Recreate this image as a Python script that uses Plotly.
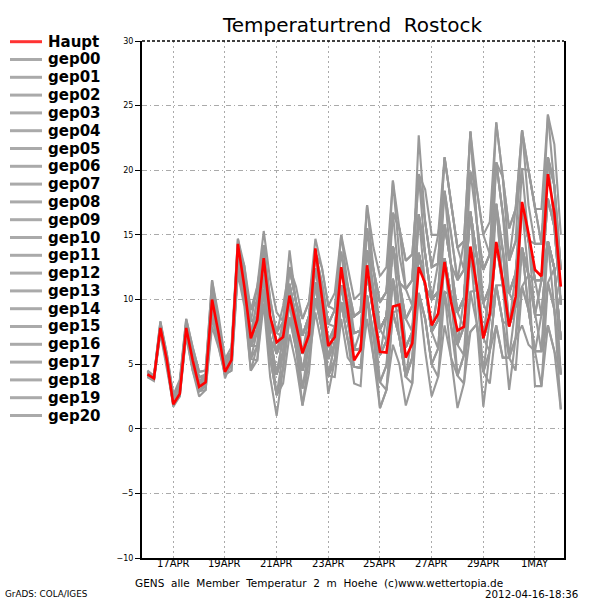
import plotly.graph_objects as go
import pandas as pd

# ---- time axis (6-hourly, GENS run 2012-04-16 00Z, 16 days) ----
start_time = "2012-04-16 00:00"
n_steps = 65
times = pd.date_range(start_time, periods=n_steps, freq="6h")

tick_dates = ["2012-04-17", "2012-04-19", "2012-04-21", "2012-04-23",
              "2012-04-25", "2012-04-27", "2012-04-29", "2012-05-01"]
tick_labels = ["17APR", "19APR", "21APR", "23APR", "25APR", "27APR", "29APR", "1MAY"]
y_ticks = [-10, -5, 0, 5, 10, 15, 20, 25, 30]

# ---- main run ----
haupt = [4.2, 3.9, 7.8, 5.3, 1.9, 2.7, 7.8, 5.3, 3.25, 3.6, 10.0, 7.4, 4.4, 5.3, 14.3, 11.0,
         7.0, 8.4, 13.2, 8.7, 6.7, 7.1, 10.3, 8.2, 5.85, 7.25, 13.95, 10.2, 6.4, 7.1, 12.5, 9.2,
         5.3, 6.1, 12.65, 9.0, 5.95, 5.9, 9.45, 9.6, 5.5, 6.6, 12.5, 11.25, 8.0, 8.9, 12.9, 9.8,
         7.6, 7.9, 14.1, 11.0, 7.0, 8.9, 14.45, 11.5, 7.9, 10.2, 17.55, 15.1, 12.3, 11.8, 19.7, 16.7,
         11.0]

# ---- ensemble members ----
gep00 = [4.2,3.9,7.8,5.2, 2.1,3.3,8.0,5.2, 3.6,3.6,9.3,7.3, 4.5,5.6,13.6,11.4, 7.3,7.6,13.1,7.0, 4.2,5.9,11.2,7.4, 5.8,7.6,12.4,10.1, 5.4,7.9,11.1,8.3, 7.4,7.6,12.0,8.9, 5.7,8.7,14.1,11.3, 6.3,7.5,16.6,11.0, 7.5,10.6,13.2,10.3, 9.0,10.1,16.8,10.7, 7.0,8.5,14.3,11.1, 10.5,12.0,17.1,14.6, 8.8,11.5,14.5,12.4, 6.9]
gep01 = [4.3,3.9,7.9,5.4, 2.4,3.5,8.2,5.9, 3.6,4.2,10.8,7.8, 4.8,5.9,14.2,12.6, 8.3,11.0,15.3,11.5, 9.0,8.3,12.5,9.8, 8.5,9.8,13.6,11.3, 8.1,9.2,13.7,9.7, 8.7,9.1,17.3,14.0, 11.8,12.5,19.2,15.5, 10.8,11.5,22.7,16.0, 12.5,15.0,18.4,15.1, 11.5,14.5,19.9,18.5, 15.0,13.5,20.6,19.5, 13.0,17.0,23.1,20.0, 17.0,17.0,24.3,18.8, 12.3]
gep02 = [4.1,3.8,7.6,5.0, 1.9,2.5,7.5,4.9, 2.9,3.6,9.3,6.8, 4.5,4.9,12.5,10.1, 5.4,5.3,9.7,4.0, 1.0,4.7,8.6,6.2, 1.8,5.4,9.0,6.5, 4.1,5.3,9.8,6.9, 3.5,3.3,10.3,5.5, 3.6,4.9,9.0,9.2, 4.0,5.5,10.5,6.0, 2.5,4.0,10.6,5.5, 4.1,3.5,7.5,8.1, 4.4,6.0,11.1,8.3, 3.0,7.0,8.0,6.5, 6.0,3.3,11.3,9.2, 4.2]
gep03 = [4.4,4.0,8.1,5.6, 2.2,3.3,8.0,5.6, 4.0,3.9,10.8,7.8, 5.1,5.6,13.6,11.4, 7.3,9.9,14.2,8.5, 5.8,8.3,11.2,8.6, 7.2,8.7,13.6,10.1, 8.1,9.2,15.0,11.1, 7.4,7.6,13.8,12.3, 9.8,10.6,16.7,15.5, 13.0,13.5,19.7,16.0, 12.5,12.8,21.0,17.5, 14.0,14.5,23.0,15.9, 12.3,13.5,23.7,19.5, 15.5,17.0,20.1,20.0, 17.0,14.3,21.0,18.8, 12.3]
gep04 = [4.0,3.7,7.4,4.8, 1.9,2.8,7.2,4.5, 2.5,3.0,7.9,6.3, 4.2,4.5,12.5,10.1, 4.5,6.4,11.9,7.0, 2.6,4.7,9.9,6.2, 3.1,5.4,10.1,7.7, 2.7,5.3,9.8,8.3, 4.8,4.7,10.3,7.2, 3.6,3.0,9.0,7.1, 4.0,3.5,13.6,11.0, 7.5,6.2,13.2,7.9, 6.5,5.7,13.7,10.7, 7.0,6.0,11.1,11.1, 5.5,9.5,14.0,9.2, 6.0,6.0,14.5,12.4, 4.2]
gep05 = [4.5,4.1,8.3,5.8, 2.6,3.8,8.5,6.3, 4.4,4.5,10.8,8.3, 5.4,5.9,14.2,12.0, 8.3,8.7,13.1,8.5, 5.8,8.3,12.5,9.8, 5.8,8.7,13.6,10.1, 6.8,7.9,12.4,9.7, 6.1,6.2,12.0,8.9, 7.7,8.7,11.6,9.2, 8.5,7.5,13.6,11.0, 7.5,8.4,13.2,10.3, 9.0,10.1,13.7,8.1, 4.4,8.5,14.3,13.9, 8.0,9.5,14.0,11.9, 11.5,11.5,17.8,15.6, 9.6]
gep06 = [4.2,3.9,7.8,5.4, 2.2,3.0,7.7,5.6, 3.3,3.6,10.1,7.8, 4.8,5.2,13.1,10.7, 6.4,7.6,11.9,5.5, 4.2,5.9,8.6,6.2, 4.5,6.5,11.3,8.9, 5.4,6.6,11.1,9.7, 6.1,7.6,12.0,8.9, 7.7,6.8,14.1,11.3, 8.5,9.5,13.6,11.0, 10.0,10.6,15.8,12.7, 6.5,10.1,16.8,13.3, 7.0,11.0,17.4,13.9, 10.5,12.0,17.1,14.6, 11.5,11.5,17.8,15.6, 9.6]
gep07 = [4.3,3.9,7.9,5.2, 2.1,3.0,7.7,5.2, 3.3,3.9,9.3,7.3, 4.5,5.2,13.6,10.7, 7.3,9.9,14.2,10.0, 7.4,7.1,11.2,8.6, 5.8,7.6,12.4,11.3, 8.1,9.2,12.4,9.7, 8.7,9.1,15.5,12.3, 7.7,8.7,14.1,11.3, 10.8,9.5,16.6,13.5, 10.0,10.6,13.2,10.3, 6.5,7.9,13.7,13.3, 9.7,11.0,20.6,16.7, 13.0,14.5,17.1,14.6, 11.5,11.5,14.5,12.4, 6.9]
gep08 = [4.1,3.9,7.6,5.2, 1.9,3.0,7.7,4.9, 2.9,3.3,8.6,7.3, 3.9,5.2,13.1,10.1, 5.4,6.4,10.8,5.5, 4.2,5.9,8.6,7.4, 4.5,6.5,11.3,10.1, 6.8,7.9,11.1,8.3, 6.1,6.2,12.0,8.9, 5.7,6.8,9.0,7.1, 4.0,5.5,13.6,11.0, 7.5,8.4,15.8,12.7, 9.0,10.1,19.9,15.9, 9.7,11.0,14.3,11.1, 8.0,9.5,14.0,9.2, 6.0,6.0,8.0,6.0, 1.5]
gep09 = [4.4,4.1,8.1,5.8, 2.4,3.5,8.2,5.9, 4.0,4.2,11.5,8.3, 5.1,5.9,14.7,12.0, 9.2,9.9,14.2,8.5, 7.4,8.3,13.8,9.8, 7.2,8.7,13.6,12.5, 9.5,10.5,15.0,12.5, 10.0,10.5,17.3,12.3, 9.8,10.6,14.1,9.2, 8.5,9.5,16.6,13.5, 10.0,10.6,18.4,15.1, 11.5,12.3,16.8,13.3, 9.7,8.5,14.3,11.1, 8.0,12.0,17.1,14.6, 14.3,14.3,21.0,18.8, 12.3]
gep10 = [4.2,3.8,7.8,5.0, 2.1,2.8,7.5,5.2, 3.3,3.6,9.3,6.8, 4.5,4.9,12.5,10.7, 6.4,8.7,13.1,7.0, 5.8,7.1,9.9,7.4, 4.5,6.5,11.3,8.9, 4.1,5.3,9.8,8.3, 6.1,6.2,13.8,10.6, 7.7,8.7,16.7,15.5, 13.0,13.5,19.7,18.5, 15.0,15.0,21.0,17.5, 14.0,14.5,23.0,15.9, 12.3,13.5,17.4,11.1, 8.0,9.5,17.1,14.6, 11.5,8.8,14.5,12.4, 6.9]
gep11 = [4.3,4.0,7.9,5.6, 2.2,3.5,8.2,5.6, 4.0,3.9,10.1,7.8, 4.8,5.6,13.6,10.7, 6.4,7.6,11.9,8.5, 5.8,7.1,11.2,8.6, 5.8,7.6,13.6,11.3, 8.1,7.9,11.1,8.3, 6.1,6.2,13.8,10.6, 7.7,8.7,14.1,11.3, 10.8,11.5,19.7,13.5, 10.0,10.6,13.2,10.3, 4.1,5.7,10.6,10.7, 7.0,8.5,14.3,13.9, 10.5,12.0,17.1,11.9, 8.8,6.0,11.3,9.2, 4.2]
gep12 = [4.0,3.8,7.4,5.0, 1.7,2.5,7.2,4.5, 2.9,3.0,8.6,6.3, 4.2,4.5,12.0,9.5, 4.5,5.3,10.8,5.5, 2.6,3.5,7.3,5.0, 1.8,4.3,10.1,7.7, 4.1,4.0,8.5,5.5, 4.8,4.7,10.3,7.2, 1.6,3.0,6.5,5.0, 1.8,3.5,10.5,8.5, 5.0,4.0,8.0,5.5, 1.6,3.5,10.6,8.1, 1.7,6.0,8.0,5.5, 5.5,7.0,14.0,11.9, 3.3,3.3,8.0,6.0, 4.2]
gep13 = [4.5,4.0,8.3,5.6, 2.6,3.5,8.5,6.3, 4.4,4.5,11.5,8.8, 5.4,6.3,14.7,12.6, 9.2,11.0,14.2,10.0, 7.4,9.5,12.5,11.0, 8.5,9.8,14.7,12.5, 9.5,9.2,13.7,11.1, 8.7,9.1,15.5,10.6, 7.7,8.7,14.1,11.3, 6.3,7.5,13.6,11.0, 7.5,8.4,10.6,7.9, 4.1,5.7,7.5,8.1, 4.4,3.5,8.0,5.5, 5.5,4.5,11.0,9.2, 6.0,6.0,11.3,12.4, 6.9]
gep14 = [4.2,3.9,7.8,5.4, 2.1,3.0,8.0,5.2, 3.3,3.9,10.1,7.3, 4.5,5.2,13.1,11.4, 7.3,7.6,11.9,7.0, 4.2,7.1,9.9,7.4, 4.5,7.6,11.3,7.7, 4.1,6.6,11.1,8.3, 6.1,6.2,12.0,8.9, 3.6,4.9,11.6,7.1, 4.0,7.5,10.5,8.5, 5.0,6.2,10.6,10.3, 6.5,7.9,13.7,10.7, 7.0,8.5,17.4,11.1, 10.5,9.5,11.0,9.2, 6.0,8.8,14.5,12.4, 6.9]
gep15 = [4.3,3.9,8.1,5.4, 2.2,3.3,8.0,5.9, 3.6,4.2,10.1,8.3, 5.1,5.6,13.6,11.4, 7.3,8.7,13.1,8.5, 5.8,7.1,12.5,9.8, 7.2,8.7,12.4,8.9, 5.4,7.9,12.4,9.7, 7.4,7.6,13.8,10.6, 9.8,10.6,16.7,11.3, 8.5,9.5,13.6,11.0, 7.5,8.4,13.2,10.3, 9.0,10.1,16.8,13.3, 9.7,11.0,20.6,16.7, 13.0,14.5,23.1,20.0, 17.0,14.3,24.3,22.0, 15.0]
gep16 = [4.1,3.8,7.8,5.0, 2.1,2.8,7.5,5.2, 2.9,3.3,8.6,6.8, 4.2,4.9,13.1,10.7, 6.4,6.4,10.8,5.5, 2.6,4.7,8.6,7.4, 4.5,6.5,10.1,7.7, 4.1,6.6,11.1,8.3, 6.1,6.2,10.3,7.2, 5.7,6.8,11.6,9.2, 6.3,7.5,16.6,13.5, 10.0,12.8,18.4,12.7, 9.0,10.1,16.8,13.3, 12.3,13.5,20.6,16.7, 10.5,12.0,20.1,14.6, 11.5,11.5,21.0,18.8, 9.6]
gep17 = [4.4,3.9,7.9,5.6, 2.4,3.3,8.2,5.6, 3.6,3.9,10.8,8.3, 4.8,5.9,14.2,12.0, 8.3,8.7,13.1,7.0, 4.2,7.1,11.2,8.6, 5.8,6.5,11.3,8.9, 5.4,7.9,12.4,11.1, 8.7,9.1,15.5,12.3, 9.8,10.6,19.2,13.4, 10.8,11.5,19.7,16.0, 12.5,12.8,21.0,17.5, 14.0,12.3,23.0,18.5, 15.0,16.0,23.7,19.5, 15.5,17.0,23.1,17.3, 14.3,14.3,21.0,15.6, 9.6]
gep18 = [4.2,3.9,7.9,5.2, 2.1,3.3,7.7,5.2, 3.3,3.6,9.3,7.8, 4.5,5.6,13.6,11.4, 7.3,8.7,14.2,8.5, 5.8,7.1,12.5,9.8, 7.2,8.7,12.4,10.1, 6.8,6.6,11.1,8.3, 7.4,7.6,13.8,10.6, 5.7,6.8,11.6,9.2, 6.3,7.5,13.6,11.0, 10.0,10.6,15.8,12.7, 11.5,12.3,13.7,10.7, 7.0,8.5,11.1,8.3, 8.0,9.5,14.0,11.9, 11.5,11.5,14.5,12.4, 6.9]
gep19 = [4.3,3.9,7.8,5.4, 2.2,3.3,8.0,5.2, 3.6,3.9,10.1,7.8, 4.8,5.6,12.5,10.1, 5.4,7.6,11.9,7.0, 4.2,5.9,9.9,7.4, 3.1,6.5,11.3,7.7, 5.4,6.6,9.8,6.9, 4.8,4.7,8.5,5.5, 1.6,3.0,9.0,7.1, 4.0,5.5,10.5,8.5, 5.0,6.2,13.2,10.3, 6.5,7.9,13.7,10.7, 7.0,11.0,17.4,13.9, 8.0,9.5,14.0,11.9, 8.8,11.5,17.8,15.6, 9.6]
gep20 = [4.1,3.9,7.6,5.2, 1.9,3.0,7.7,5.2, 3.3,3.3,9.3,7.3, 4.5,5.2,13.1,10.7, 6.4,7.6,10.8,5.5, 2.6,5.9,9.9,6.2, 4.5,6.5,11.3,7.7, 4.1,5.3,9.8,6.9, 6.1,6.2,12.0,10.6, 7.7,8.7,14.1,11.3, 8.5,9.5,13.6,11.0, 7.5,10.6,15.8,12.7, 9.0,7.9,13.7,10.7, 4.4,6.0,11.1,8.3, 5.5,7.0,11.0,11.9, 8.8,8.8,14.5,9.2, 1.5]

members = [gep00, gep01, gep02, gep03, gep04, gep05, gep06, gep07, gep08, gep09, gep10,
           gep11, gep12, gep13, gep14, gep15, gep16, gep17, gep18, gep19, gep20]
member_names = ["gep%02d" % i for i in range(len(members))]
for nm, m in zip(member_names, members):
    assert len(m) == n_steps, (nm, len(m))
assert len(haupt) == n_steps

# ---- styling ----
GREY = "#999999"
RED = "#ff0000"
FONT = "DejaVu Sans"

# layout geometry (pixels)
W, H = 600, 600
ML, MR, MT, MB = 142, 36, 41, 42
PW = W - ML - MR
PH = H - MT - MB


def px_x(px):
    return (px - ML) / PW


def px_y(py):
    return (H - MB - py) / PH


fig = go.Figure()
for nm, m in zip(member_names, members):
    fig.add_trace(go.Scatter(x=times, y=m, mode="lines", name=nm,
                             line=dict(color=GREY, width=2.1), hoverinfo="skip"))
fig.add_trace(go.Scatter(x=times, y=haupt, mode="lines", name="Haupt",
                         line=dict(color=RED, width=2.6), hoverinfo="skip"))

shapes = []
annotations = []

# dotted top border of the frame
shapes.append(dict(type="line", xref="paper", yref="paper", x0=0, x1=1, y0=1, y1=1,
                   line=dict(color="black", width=1.5, dash="3px,2px"), layer="above"))

# manual legend on the left
legend_names = ["Haupt"] + member_names
for i, nm in enumerate(legend_names):
    py = 41.7 + i * 17.8
    col = "#ff3333" if nm == "Haupt" else "#aaaaaa"
    shapes.append(dict(type="line", xref="paper", yref="paper",
                       x0=px_x(10), x1=px_x(42), y0=px_y(py), y1=px_y(py),
                       line=dict(color=col, width=3), layer="above"))
    annotations.append(dict(text="<b>%s</b>" % nm, xref="paper", yref="paper",
                            x=px_x(46), y=px_y(py), xanchor="left", yanchor="middle",
                            showarrow=False, font=dict(family=FONT, size=15, color="black")))

# x tick labels (placed just under the frame like GrADS)
for d, lab in zip(tick_dates, tick_labels):
    annotations.append(dict(text=lab, xref="x", yref="paper", x=d, y=px_y(563.5),
                            xanchor="center", yanchor="middle", showarrow=False,
                            font=dict(family=FONT, size=10, color="black")))

# title
annotations.append(dict(text="Temperaturtrend  Rostock", xref="paper", yref="paper",
                        x=px_x(352), y=px_y(25), xanchor="center", yanchor="middle",
                        showarrow=False, font=dict(family=FONT, size=20, color="black")))
# footer texts
annotations.append(dict(text="GENS  alle  Member  Temperatur  2  m  Hoehe  (c)www.wettertopia.de",
                        xref="paper", yref="paper", x=px_x(319), y=px_y(583),
                        xanchor="center", yanchor="middle", showarrow=False,
                        font=dict(family=FONT, size=10.5, color="black")))
annotations.append(dict(text="GrADS: COLA/IGES", xref="paper", yref="paper",
                        x=px_x(3), y=px_y(594), xanchor="left", yanchor="middle",
                        showarrow=False, font=dict(family=FONT, size=8.8, color="black")))
annotations.append(dict(text="2012-04-16-18:36", xref="paper", yref="paper",
                        x=px_x(580), y=px_y(594), xanchor="right", yanchor="middle",
                        showarrow=False, font=dict(family=FONT, size=10.3, color="black")))

fig.update_layout(
    width=W, height=H,
    margin=dict(l=ML, r=MR, t=MT, b=MB, pad=0),
    paper_bgcolor="white", plot_bgcolor="white",
    showlegend=False, hovermode=False,
    shapes=shapes, annotations=annotations,
    xaxis=dict(type="date", range=["2012-04-15 18:55", "2012-05-02 02:57"],
               tickmode="array", tickvals=tick_dates, ticktext=tick_labels,
               showticklabels=False,
               showgrid=True, gridcolor="#aaaaaa", gridwidth=1, griddash="2px,3px",
               showline=True, linecolor="black", linewidth=2, mirror=False,
               ticks="", zeroline=False),
    yaxis=dict(range=[-10, 30], tickmode="array", tickvals=y_ticks,
               showgrid=True, gridcolor="#aaaaaa", gridwidth=1, griddash="5px,3px,1px,3px",
               showline=True, linecolor="black", linewidth=2, mirror=True,
               ticks="outside", ticklen=5, tickcolor="black", tickwidth=1,
               zeroline=False,
               tickfont=dict(family=FONT, size=8, color="black")),
)

fig.write_html("out.html", config={"displayModeBar": False, "staticPlot": True},
               post_script="document.body.style.margin='0';document.body.style.padding='0';")
